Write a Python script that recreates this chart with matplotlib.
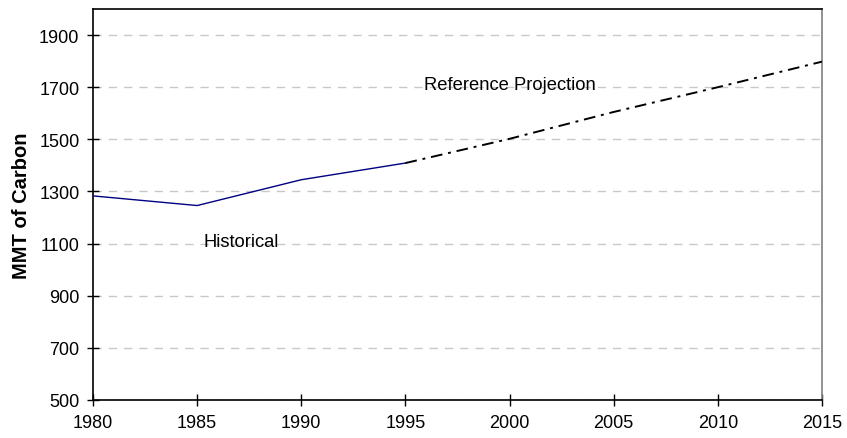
import matplotlib
matplotlib.use("Agg")
import matplotlib.pyplot as plt

plt.rcParams['font.family'] = ['Liberation Sans', 'DejaVu Sans']

# historical emissions
hist_years = [1980, 1985, 1990, 1995]
hist_vals = [1283, 1246, 1345, 1409]

# reference projection
proj_years = [1995, 2000, 2005, 2010, 2015]
proj_vals = [1409, 1502, 1605, 1700, 1798]

x_ticks = [1980, 1985, 1990, 1995, 2000, 2005, 2010, 2015]
y_ticks = [500, 700, 900, 1100, 1300, 1500, 1700, 1900]

fig = plt.figure(figsize=(8.47, 4.39), dpi=100)
ax = fig.add_axes([93 / 847, 38 / 439, 729 / 847, 391 / 439])

ax.plot(hist_years, hist_vals, color='#000080', linewidth=1.0, zorder=3)
ax.plot(proj_years, proj_vals, color='black', linewidth=1.4,
        linestyle=(0, (6, 3, 1.5, 3)), zorder=3)

ax.text(1995.9, 1711, 'Reference Projection', fontsize=13.2, va='center', ha='left')
ax.text(1985.3, 1108, 'Historical', fontsize=13.2, va='center', ha='left')

ax.set_xlim(1980, 2015)
ax.set_ylim(500, 2000)
ax.set_xticks(x_ticks)
ax.set_yticks(y_ticks)
ax.tick_params(direction='inout', length=8.5, width=1, labelsize=13)
ax.tick_params(axis='y', pad=5.5)
ax.tick_params(axis='x', pad=6)
ax.grid(axis='y', color='#c8c8c8', linestyle=(0, (6, 5)), linewidth=1, zorder=0)
ax.set_axisbelow(True)
ax.set_ylabel('MMT of Carbon', fontsize=14.5, fontweight='bold', labelpad=6)

for side in ['left', 'bottom', 'top']:
    ax.spines[side].set_color('black')
    ax.spines[side].set_linewidth(1.2)
ax.spines['right'].set_color('#808080')
ax.spines['right'].set_linewidth(1.2)

fig.savefig('out.png', dpi=100)
plt.close()
